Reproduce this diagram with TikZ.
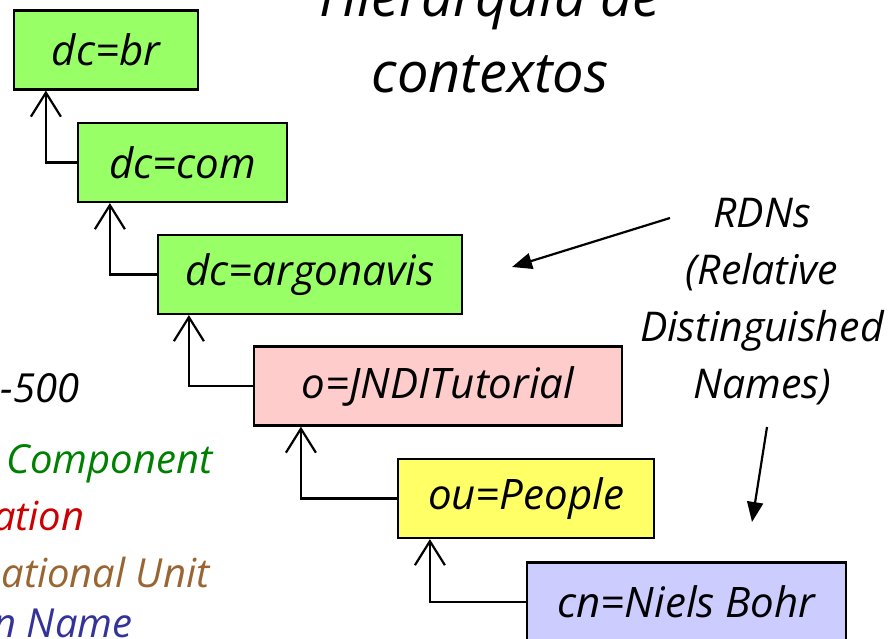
\documentclass[tikz,border=0pt]{standalone}
\usepackage{fontspec}
\setmainfont{Open Sans}
\usetikzlibrary{arrows.meta,calc}

\definecolor{dcgreen}{HTML}{99FF66}
\definecolor{opink}{HTML}{FFCCCC}
\definecolor{ouyellow}{HTML}{FFFF66}
\definecolor{cnblue}{HTML}{CCCCFF}
\definecolor{txgreen}{HTML}{008000}
\definecolor{txred}{HTML}{CC0000}
\definecolor{txbrown}{HTML}{996633}
\definecolor{txblue}{HTML}{333399}

\begin{document}
\begin{tikzpicture}[x=1pt,y=-1pt,
    ctx/.style={draw,line width=2.2pt,minimum height=79pt,inner sep=0pt,
      font=\fontsize{42}{48}\selectfont\itshape},
    up/.style={line width=2.2pt,-{Straight Barb[length=24pt,width=30pt,line width=2.2pt]}},
    pointer/.style={line width=2.2pt,-{Triangle[length=20pt,width=16pt]}},
    side/.style={anchor=base east,font=\fontsize{40}{57}\selectfont\itshape}]

    \useasboundingbox (0,0) rectangle (888,639);

    % titulo (cortado em cima)
    \node[anchor=base,font=\fontsize{56}{76}\selectfont\itshape] (title1) at (490,17) {Hierarquia de};
    \node[anchor=base,font=\fontsize{56}{76}\selectfont\itshape] (title2) at (490,93) {contextos};

    % os contextos
    \node[ctx,fill=dcgreen,minimum width=184pt] (br) at (106,50) {dc=br};
    \node[ctx,fill=dcgreen,minimum width=209pt] (com) at (182.5,162.5) {dc=com};
    \node[ctx,fill=dcgreen,minimum width=304pt] (argo) at (310,274.5) {dc=argonavis};
    \node[ctx,fill=opink,minimum width=368pt] (jndi) at (438,386) {o=JNDITutorial};
    \node[ctx,fill=ouyellow,minimum width=256pt] (people) at (526,498.5) {ou=People};
    \node[ctx,fill=cnblue,minimum width=319pt] (bohr) at (686.5,602) {cn=Niels Bohr};

    % ligacoes filho -> pai
    \draw[up] (com.west) -| ($(br.south west)+(33,0)$);
    \draw[up] (argo.west) -| ($(com.south west)+(33,0)$);
    \draw[up] (jndi.west) -| ($(argo.south west)+(32,0)$);
    \draw[up] (people.west) -| ($(jndi.south west)+(48,0)$);
    \draw[up] (bohr.west) -| ($(people.south west)+(33,0)$);

    % RDNs
    \node[align=center,font=\fontsize{41}{57}\selectfont\itshape] (rdn) at (762,302)
      {RDNs\\(Relative\\Distinguished\\Names)};
    \coordinate (rdnA) at (670,218);
    \coordinate (rdnAend) at (512,267);
    \coordinate (rdnB) at (767,427);
    \coordinate (rdnBend) at (752,522);
    \draw[pointer] (rdnA) -- (rdnAend);
    \draw[pointer] (rdnB) -- (rdnBend);

    % legenda a esquerda (cortada)
    \node[side] (x500) at (83,402) {-500};
    \node[side,text=txgreen] (dcleg) at (216,473) {Component};
    \node[side,text=txred] (oleg) at (88,530) {ation};
    \node[side,text=txbrown] (ouleg) at (213,587) {ational Unit};
    \node[side,text=txblue] (cnleg) at (136,637) {n Name};

\end{tikzpicture}
\end{document}
